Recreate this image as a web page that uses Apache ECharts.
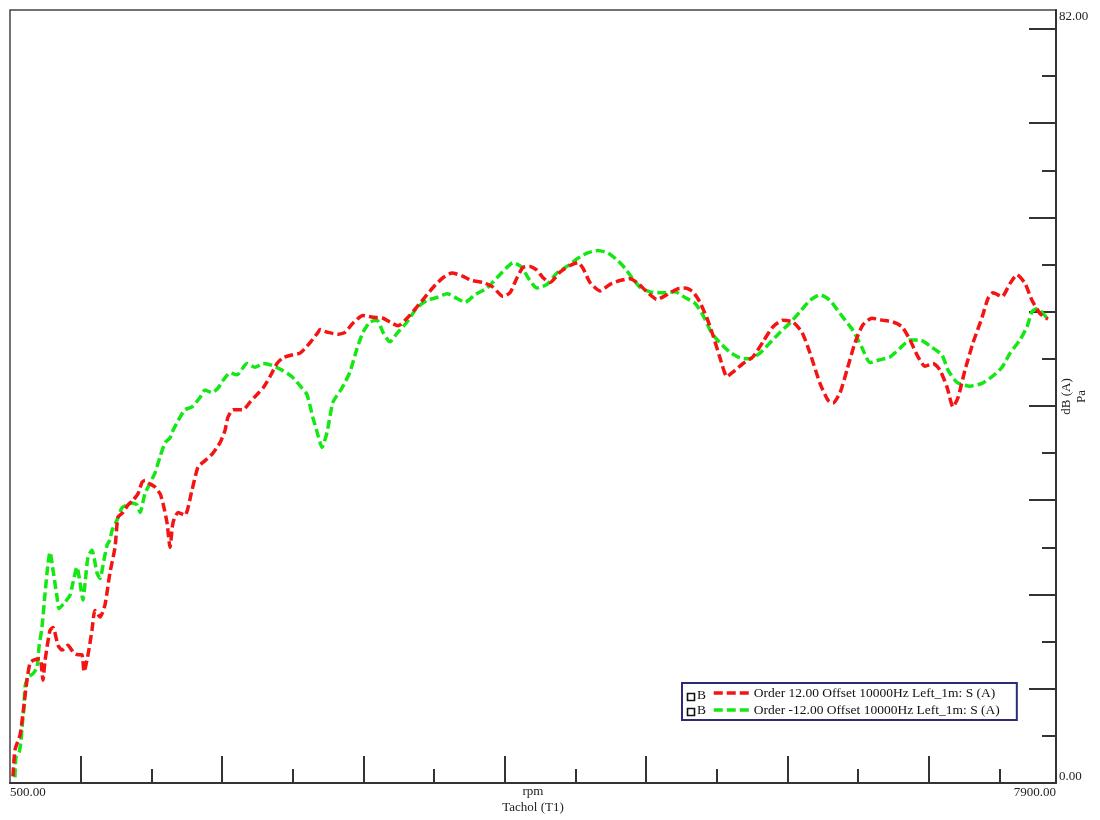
<!DOCTYPE html>
<html>
<head>
<meta charset="utf-8">
<script src="https://cdn.jsdelivr.net/npm/echarts@6/dist/echarts.min.js"></script>
<style>
  html, body { margin: 0; padding: 0; background: #fff; }
  #chart { width: 1100px; height: 820px; }
</style>
</head>
<body>
<div id="chart"></div>
<script>
// Order-cut levels versus engine speed
const seriesNames = [
  'Order 12.00 Offset 10000Hz Left_1m: S (A)',
  'Order -12.00 Offset 10000Hz Left_1m: S (A)'
];

const redRpm = [521,535,571,592,620,641,663,712,733,748,783,804,840,868,910,946,981,1009,1024,1052,
  1080,1101,1137,1172,1207,1243,1264,1299,1335,1370,1406,1434,1455,1483,1526,1561,1582,1611,1632,1653,
  1689,1738,1788,1830,1880,1936,1986,2021,2042,2078,2148,2198,2247,2290,2339,2389,2431,2495,2552,2622,
  2679,2693,2750,2820,2870,2927,2997,3068,3139,3188,3245,3309,3379,3450,3507,3563,3627,3698,3768,3846,
  3917,3988,4037,4087,4129,4179,4228,4271,4320,4391,4462,4518,4554,4603,4674,4745,4816,4886,4943,5006,
  5077,5148,5219,5275,5332,5381,5431,5473,5523,5572,5615,5686,5756,5827,5898,5969,6039,6103,6160,6230,
  6287,6322,6372,6421,6478,6534,6598,6669,6747,6811,6867,6924,6973,7030,7079,7129,7171,7207,7256,7313,
  7377,7419,7454,7518,7575,7624,7681,7730,7787,7843];
const redDb = [0.7,3.5,5.1,7.4,10.9,12.7,13.0,13.2,10.9,13.0,16.2,16.5,14.6,14.1,14.6,13.9,13.6,13.6,11.8,13.6,
  16.2,18.3,17.6,18.9,22.3,25.0,28.2,28.7,29.5,30.0,30.7,31.9,32.1,31.8,31.4,30.7,29.7,27.6,25.0,27.6,
  28.7,28.4,31.1,33.5,34.2,35.0,36.1,37.4,38.8,39.6,39.6,40.4,41.2,41.9,43.1,44.5,45.1,45.4,45.6,46.7,
  47.8,48.1,47.8,47.6,47.8,48.8,49.6,49.4,49.3,48.9,48.5,49.3,50.5,51.8,52.8,53.6,54.1,53.8,53.3,53.1,
  52.6,51.6,52.0,53.6,54.7,54.8,54.4,53.6,53.1,54.2,54.9,55.2,54.6,53.1,52.2,52.9,53.3,53.5,53.0,52.1,
  51.3,51.8,52.4,52.5,52.1,51.0,49.3,47.5,45.1,43.1,43.6,44.5,45.2,46.8,48.4,49.1,48.9,47.8,45.6,42.4,
  40.6,40.3,41.4,43.8,46.7,48.6,49.3,49.1,48.9,48.4,47.0,45.2,44.2,44.5,43.8,42.0,39.9,40.9,43.8,46.7,
  49.4,51.4,52.0,51.6,53.0,53.9,53.0,51.2,49.8,49.2];

const greenRpm = [535,542,564,578,585,599,606,627,663,691,705,726,748,769,783,804,833,847,889,924,
  946,974,995,1016,1031,1052,1080,1115,1137,1158,1186,1207,1222,1257,1292,1328,1363,1398,1420,1455,
  1490,1526,1561,1597,1632,1653,1703,1738,1788,1844,1880,1929,1972,2007,2056,2106,2177,2233,2290,2353,
  2424,2495,2566,2601,2644,2679,2707,2743,2785,2849,2905,2955,2997,3047,3096,3139,3188,3238,3309,3379,
  3450,3521,3592,3662,3719,3790,3875,3945,4016,4059,4122,4165,4228,4299,4370,4462,4511,4582,4660,4731,
  4794,4851,4900,4957,5028,5120,5205,5275,5346,5403,5466,5523,5593,5664,5735,5806,5877,5947,6018,6089,
  6160,6230,6301,6372,6464,6527,6584,6655,6726,6796,6867,6938,7023,7094,7136,7200,7292,7377,7447,7518,
  7575,7645,7695,7730,7766,7808,7843];
const greenDb = [0.6,2.7,3.2,4.5,5.9,8.0,10.2,11.2,11.6,12.3,14.4,16.5,20.1,23.3,24.5,22.6,19.7,18.5,19.2,19.9,
  21.3,22.9,21.3,19.4,21.2,24.0,24.7,22.3,21.7,23.1,25.2,25.8,26.8,27.9,29.2,29.5,29.7,29.5,28.7,30.7,
  31.8,32.9,34.6,36.1,36.6,37.4,38.8,39.6,39.9,40.9,41.7,41.4,41.9,42.7,43.5,43.3,44.5,44.1,44.5,44.3,
  43.8,43.1,41.9,41.2,38.7,36.9,35.6,37.2,40.4,41.9,43.6,46.1,47.8,48.9,49.1,47.8,46.8,47.7,48.9,50.4,
  51.2,51.5,51.9,51.4,51.0,51.8,52.5,53.6,54.7,55.2,54.7,53.6,52.5,52.9,54.1,55.0,55.6,56.2,56.5,56.2,
  55.5,54.6,53.6,52.6,52.1,52.0,52.1,51.5,50.9,49.6,47.7,46.7,45.7,45.1,45.0,45.6,46.7,47.8,48.8,50.0,
  51.2,51.8,51.2,49.8,48.0,46.2,44.6,44.9,45.2,46.1,47.0,47.0,46.2,45.4,43.8,42.5,42.1,42.4,43.1,44.1,
  45.6,47.0,48.4,50.0,50.3,49.8,49.2];

// Axis ranges and tick positions
const xMin = 500, xMax = 7900;
const yMin = 0, yMax = 82;
const xMajorTicks = [1000, 2000, 3000, 4000, 5000, 6000, 7000];
const xMinorTicks = [1500, 2500, 3500, 4500, 5500, 6500, 7500];
const xLabels = [500, 7900];
const yMajorTicks = [10, 20, 30, 40, 50, 60, 70, 80];
const yMinorTicks = [5, 15, 25, 35, 45, 55, 65, 75];
const yLabels = [0, 82];

const FONT = 'Liberation Serif';
const AXIS = '#333';
const colors = ['#f41414', '#14e814'];

const pair = (xs, ys) => xs.map((x, i) => [x, ys[i]]);

const chart = echarts.init(document.getElementById('chart'), null, { renderer: 'canvas' });

const legendBoxLeft = 682, legendBoxTop = 683, rowH = 15;

chart.setOption({
  animation: false,
  backgroundColor: '#fff',
  textStyle: { fontFamily: FONT, color: '#222' },
  grid: {
    left: 10, top: 10, width: 1046, height: 773,
    show: true, borderColor: '#444', borderWidth: 1.5,
    containLabel: false, outerBoundsMode: 'none'
  },
  xAxis: [
    {
      type: 'value', min: xMin, max: xMax, interval: 500, position: 'bottom',
      axisLine: { show: true, lineStyle: { color: AXIS, width: 2 } },
      axisTick: { show: true, inside: true, length: 27, customValues: xMajorTicks,
        lineStyle: { color: AXIS, width: 2 } },
      axisLabel: { show: true, customValues: xLabels, margin: 3,
        formatter: v => v.toFixed(2), fontFamily: FONT, fontSize: 13, color: '#222',
        alignMinLabel: 'left', alignMaxLabel: 'right' },
      splitLine: { show: false },
      name: 'rpm\nTachol (T1)', nameLocation: 'middle', nameGap: 1, nameMoveOverlap: false,
      nameTextStyle: { fontFamily: FONT, fontSize: 13, color: '#222', lineHeight: 16,
        verticalAlign: 'top' }
    },
    {
      type: 'value', min: xMin, max: xMax, interval: 500, position: 'bottom',
      axisLine: { show: false },
      axisTick: { show: true, inside: true, length: 14, customValues: xMinorTicks,
        lineStyle: { color: AXIS, width: 2 } },
      axisLabel: { show: false },
      splitLine: { show: false }
    }
  ],
  yAxis: [
    {
      type: 'value', min: yMin, max: yMax, interval: 5, position: 'right',
      axisLine: { show: true, lineStyle: { color: AXIS, width: 2 } },
      axisTick: { show: true, inside: true, length: 27, customValues: yMajorTicks,
        lineStyle: { color: AXIS, width: 2 } },
      axisLabel: { show: true, customValues: yLabels, margin: 3,
        formatter: v => v.toFixed(2), fontFamily: FONT, fontSize: 13, color: '#222',
        verticalAlignMinLabel: 'bottom', verticalAlignMaxLabel: 'top' },
      splitLine: { show: false },
      name: 'dB (A)\nPa', nameLocation: 'middle', nameRotate: 90, nameGap: 3,
      nameMoveOverlap: false,
      nameTextStyle: { fontFamily: FONT, fontSize: 13, color: '#222', lineHeight: 15 }
    },
    {
      type: 'value', min: yMin, max: yMax, interval: 5, position: 'right',
      axisLine: { show: false },
      axisTick: { show: true, inside: true, length: 14, customValues: yMinorTicks,
        lineStyle: { color: AXIS, width: 2 } },
      axisLabel: { show: false },
      splitLine: { show: false }
    }
  ],
  legend: {
    orient: 'vertical',
    left: legendBoxLeft, top: legendBoxTop,
    padding: [3, 17, 3, 30],
    itemWidth: 35, itemHeight: 12, itemGap: 3,
    borderColor: '#2b2b78', borderWidth: 2, backgroundColor: '#fff',
    textStyle: { fontFamily: FONT, fontSize: 13.5, color: '#111' },
    lineStyle: { width: 3.5 },
    itemStyle: { opacity: 0 },
    data: seriesNames
  },
  graphic: [0, 1].flatMap(i => [
    { type: 'rect', z: 100, left: legendBoxLeft + 3, top: legendBoxTop + 8 + i * rowH,
      shape: { width: 7, height: 7 }, style: { fill: 'none', stroke: '#111', lineWidth: 1.6 } },
    { type: 'text', z: 100, left: legendBoxLeft + 15, top: legendBoxTop + 5 + i * rowH,
      style: { text: 'B', font: '13.5px "Liberation Serif"', fill: '#111' } }
  ]),
  series: [
    {
      name: seriesNames[0], type: 'line', xAxisIndex: 0, yAxisIndex: 0,
      data: pair(redRpm, redDb), symbol: 'none', showSymbol: false, smooth: 0.2,
      lineStyle: { color: colors[0], width: 3.5, type: [9, 4] },
      itemStyle: { color: colors[0] }, z: 3
    },
    {
      name: seriesNames[1], type: 'line', xAxisIndex: 0, yAxisIndex: 0,
      data: pair(greenRpm, greenDb), symbol: 'none', showSymbol: false, smooth: 0.2,
      lineStyle: { color: colors[1], width: 3.5, type: [9, 4] },
      itemStyle: { color: colors[1] }, z: 2
    }
  ]
});
</script>
</body>
</html>
